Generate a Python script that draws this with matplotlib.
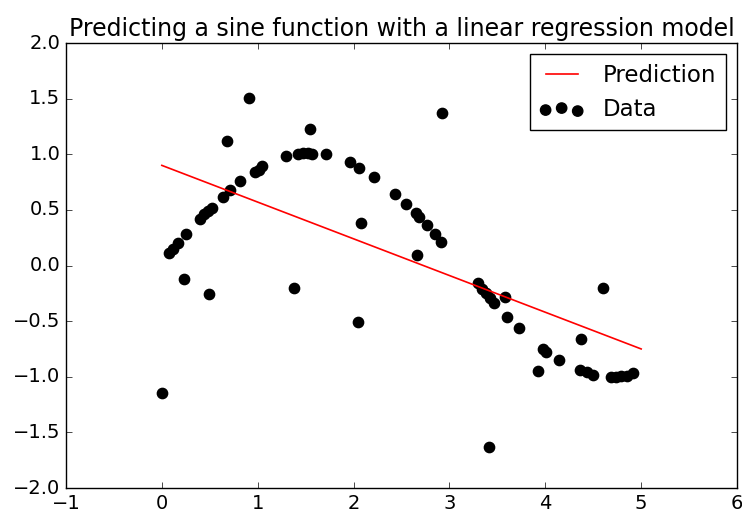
import numpy as np
import matplotlib
matplotlib.use("Agg")
import matplotlib.pyplot as plt

plt.style.use("classic")
plt.rcParams["xtick.labelsize"] = 14
plt.rcParams["ytick.labelsize"] = 14

# -----------------------------
# Data
# -----------------------------
x_data = [0.00, 0.08, 0.12, 0.17, 0.23, 0.25, 0.40, 0.44, 0.48, 0.49,
          0.52, 0.64, 0.68, 0.71, 0.82, 0.91, 0.97, 1.01, 1.05, 1.30,
          1.38, 1.42, 1.47, 1.52, 1.55, 1.57, 1.71, 1.96, 2.05, 2.06,
          2.08, 2.21, 2.43, 2.55, 2.65, 2.66, 2.68, 2.77, 2.85, 2.91,
          2.92, 3.30, 3.34, 3.38, 3.41, 3.42, 3.46, 3.58, 3.60, 3.73,
          3.92, 3.98, 4.01, 4.14, 4.36, 4.37, 4.43, 4.50, 4.60, 4.69,
          4.74, 4.79, 4.85, 4.91]
y_data = [-1.15, 0.11, 0.15, 0.20, -0.12, 0.28, 0.42, 0.46, 0.49, -0.26,
          0.52, 0.62, 1.12, 0.68, 0.76, 1.51, 0.84, 0.86, 0.89, 0.98,
          -0.20, 1.00, 1.01, 1.01, 1.23, 1.00, 1.00, 0.93, -0.51, 0.88,
          0.38, 0.80, 0.64, 0.55, 0.47, 0.09, 0.44, 0.36, 0.28, 0.21,
          1.37, -0.16, -0.21, -0.25, -1.63, -0.29, -0.34, -0.28, -0.46, -0.56,
          -0.95, -0.75, -0.78, -0.85, -0.94, -0.66, -0.96, -0.98, -0.20, -1.00,
          -1.00, -0.99, -0.99, -0.97]

# linear fit line (end points)
x_line = [0.0, 5.0]
y_pred = [0.90, -0.75]

# -----------------------------
# Plot
# -----------------------------
fig = plt.figure(figsize=(7.42, 5.15), dpi=100)
ax = fig.add_axes([0.0889, 0.0524, 0.9044, 0.8641])

ax.plot(x_line, y_pred, color="red", lw=1.2, label="Prediction")
ax.scatter(x_data, y_data, color="black", s=55, label="Data")

ax.set_xlim(-1, 6)
ax.set_ylim(-2, 2)
ax.set_title("Predicting a sine function with a linear regression model", fontsize=17)
ax.legend(fontsize=16.5)

fig.savefig("out.png", dpi=100)
